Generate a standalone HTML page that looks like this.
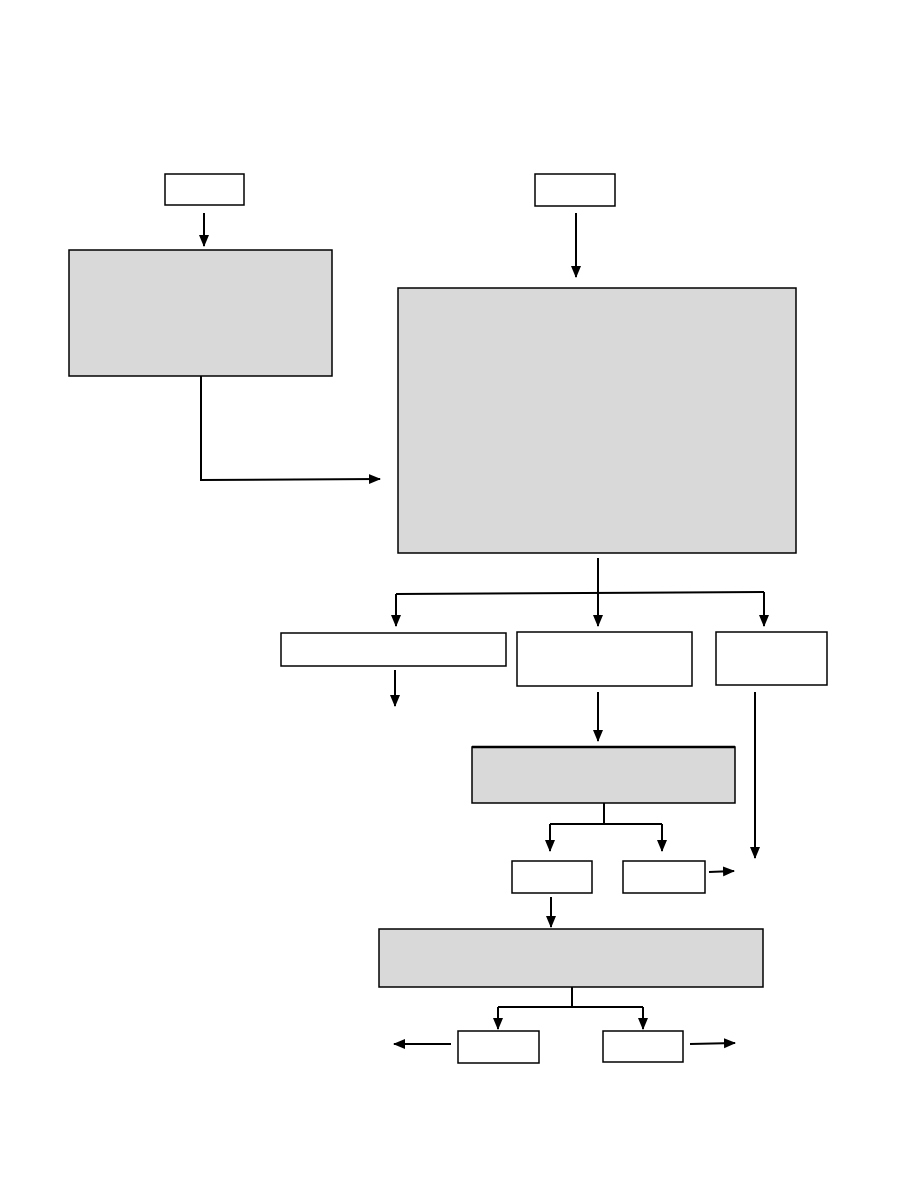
<!DOCTYPE html>
<html><head><meta charset="utf-8"><style>html,body{margin:0;padding:0;background:#fff}svg{display:block}</style></head>
<body>
<svg width="918" height="1188" viewBox="0 0 918 1188" xmlns="http://www.w3.org/2000/svg">
<defs>
<marker id="a" markerWidth="14" markerHeight="12" refX="11" refY="5" orient="auto" markerUnits="userSpaceOnUse">
<path d="M0,0 L12,5 L0,10 z" fill="#000"/>
</marker>
</defs>
<g stroke="#000" stroke-width="1.5">
<rect x="165" y="174" width="79" height="31" fill="#fff"/>
<rect x="69" y="250" width="263" height="126" fill="#d9d9d9"/>
<rect x="535" y="174" width="80" height="32" fill="#fff"/>
<rect x="398" y="288" width="398" height="265" fill="#d9d9d9"/>
<rect x="281" y="633" width="225" height="33" fill="#fff"/>
<rect x="517" y="632" width="175" height="54" fill="#fff"/>
<rect x="716" y="632" width="111" height="53" fill="#fff"/>
<rect x="472" y="747" width="263" height="56" fill="#d9d9d9"/>
<line x1="472" y1="747" x2="735" y2="747" stroke-width="2.5"/>
<rect x="512" y="861" width="80" height="32" fill="#fff"/>
<rect x="623" y="861" width="82" height="32" fill="#fff"/>
<rect x="379" y="929" width="384" height="58" fill="#d9d9d9"/>
<rect x="458" y="1031" width="81" height="32" fill="#fff"/>
<rect x="603" y="1031" width="80" height="31" fill="#fff"/>
</g>
<g stroke="#000" stroke-width="2" fill="none">
<line x1="204" y1="213" x2="204" y2="246" marker-end="url(#a)"/>
<line x1="576" y1="213" x2="576" y2="277" marker-end="url(#a)"/>
<polyline points="201,376 201,480 380,479" marker-end="url(#a)"/>
<line x1="598" y1="558" x2="598" y2="626" marker-end="url(#a)"/>
<polyline points="396,594 764,592"/>
<line x1="396" y1="594" x2="396" y2="626" marker-end="url(#a)"/>
<line x1="764" y1="592" x2="764" y2="626" marker-end="url(#a)"/>
<line x1="395" y1="670" x2="395" y2="706" marker-end="url(#a)"/>
<line x1="598" y1="692" x2="598" y2="741" marker-end="url(#a)"/>
<line x1="755" y1="692" x2="755" y2="858" marker-end="url(#a)"/>
<line x1="604" y1="803" x2="604" y2="824"/>
<polyline points="550,824 662,824"/>
<line x1="550" y1="824" x2="550" y2="851" marker-end="url(#a)"/>
<line x1="662" y1="824" x2="662" y2="851" marker-end="url(#a)"/>
<line x1="709" y1="872" x2="734" y2="871" marker-end="url(#a)"/>
<line x1="551" y1="897" x2="551" y2="927" marker-end="url(#a)"/>
<line x1="572" y1="987" x2="572" y2="1007"/>
<polyline points="498,1007 643,1007"/>
<line x1="498" y1="1007" x2="498" y2="1029" marker-end="url(#a)"/>
<line x1="643" y1="1007" x2="643" y2="1029" marker-end="url(#a)"/>
<line x1="451" y1="1044" x2="394" y2="1044" marker-end="url(#a)"/>
<line x1="690" y1="1044" x2="735" y2="1043" marker-end="url(#a)"/>
</g>
</svg>
</body></html>
